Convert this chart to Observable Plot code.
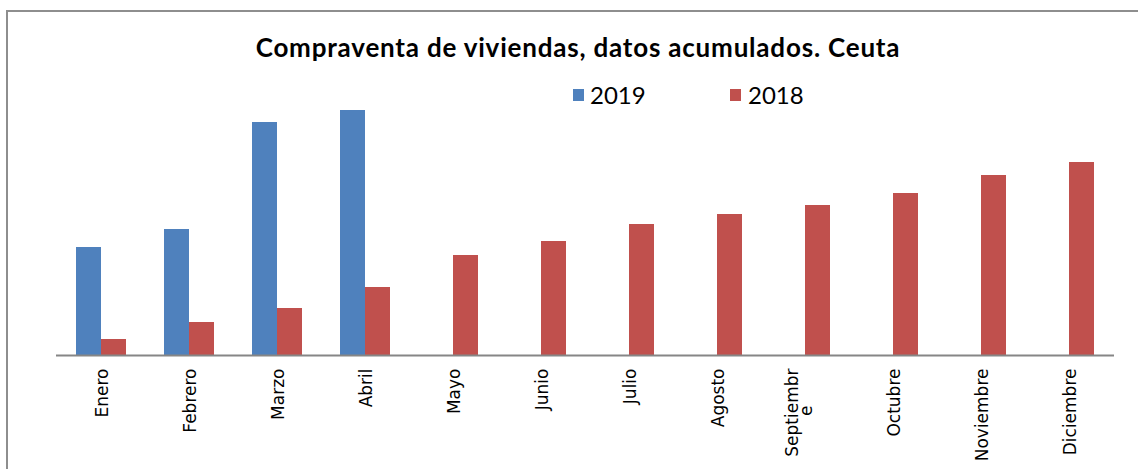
<!DOCTYPE html>
<html>
<head>
<meta charset="utf-8">
<script src="https://cdn.jsdelivr.net/npm/d3@7"></script>
<script src="https://cdn.jsdelivr.net/npm/@observablehq/plot@0.6"></script>
<style>
  html, body { margin: 0; padding: 0; background: #fff; }
  body { width: 1138px; height: 469px; overflow: hidden; position: relative; }
  #frame { position: absolute; left: 6px; top: 10px; width: 1200px; height: 520px;
           border-left: 2px solid #8e8e8e; border-top: 2px solid #8e8e8e; box-sizing: border-box; }
  #title { position: absolute; left: 0; width: 1156px; top: 32px; text-align: center;
           font-family: Lato, "Open Sans", sans-serif; font-weight: bold; font-size: 26px; letter-spacing: 0.8px; color: #000; line-height: 30px; }
  .leg { position: absolute; top: 81px; font-family: Lato, "Open Sans", sans-serif; font-size: 24px; line-height: 28px; color: #000; }
  .sw { position: absolute; width: 11px; height: 12px; top: 89px; }
  #chart { position: absolute; left: 0; top: 90px; }
</style>
</head>
<body>
<div id="frame"></div>
<div id="title">Compraventa de viviendas, datos acumulados. Ceuta</div>
<div id="legend"></div>
<div id="chart"></div>
<script>
const months = ["Enero","Febrero","Marzo","Abril","Mayo","Junio","Julio","Agosto","Septiembre","Octubre","Noviembre","Diciembre"];
// tick labels as drawn (Septiembre wraps onto a second line)
const tickLine1 = ["Enero","Febrero","Marzo","Abril","Mayo","Junio","Julio","Agosto","Septiembr","Octubre","Noviembre","Diciembre"];
const tickLine2 = ["","","","","","","","","e","","",""];
const years = ["2019","2018"];
const colors = ["#4f81bd","#c0504d"];
const values2019 = [108, 126, 233, 245];
const values2018 = [16, 33, 47, 68, 100, 114, 131, 141, 150, 162, 180, 193];

const data2019 = values2019.map((v, i) => ({month: months[i], year: "2019", value: v}));
const data2018 = values2018.map((v, i) => ({month: months[i], year: "2018", value: v}));
const labels = months.map((m, i) => ({month: m, line1: tickLine1[i], line2: tickLine2[i]}));
const singleLine = labels.filter(d => !d.line2);
const wrapped = labels.filter(d => d.line2);

// legend
const legend = document.getElementById("legend");
const legPos = [[573, 590], [730, 748]];
years.forEach((y, i) => {
  const sw = document.createElement("div");
  sw.className = "sw"; sw.style.left = legPos[i][0] + "px"; sw.style.background = colors[i];
  legend.appendChild(sw);
  const t = document.createElement("div");
  t.className = "leg"; t.style.left = legPos[i][1] + "px"; t.textContent = y;
  legend.appendChild(t);
});

const labelStyle = {fill: "#000", fontSize: 17, rotate: -90, frameAnchor: "bottom", lineAnchor: "middle"};

const chart = Plot.plot({
  width: 1138,
  height: 379,
  marginLeft: 56,
  marginRight: 24,
  marginTop: 15,
  marginBottom: 114,
  style: {fontFamily: "DejaVu Sans", fontSize: "17px", color: "#000", background: "transparent", overflow: "visible"},
  x: {domain: months, padding: 0, axis: null},
  y: {domain: [0, 250], axis: null},
  marks: [
    Plot.barY(data2019, {x: "month", y: "value", fill: colors[0], insetLeft: 19, insetRight: 44}),
    Plot.barY(data2018, {x: "month", y: "value", fill: colors[1], insetLeft: 44, insetRight: 19}),
    Plot.ruleY([0], {stroke: "#868686", strokeWidth: 2}),
    Plot.text(singleLine, {...labelStyle, x: "month", text: "line1", textAnchor: "end", dy: 13, dx: 1}),
    Plot.text(wrapped, {...labelStyle, x: "month", text: "line1", textAnchor: "end", dy: 13, dx: -13}),
    Plot.text(wrapped, {...labelStyle, x: "month", text: "line2", textAnchor: "end", dy: 50, dx: 1.5})
  ]
});
document.getElementById("chart").appendChild(chart);
</script>
</body>
</html>
